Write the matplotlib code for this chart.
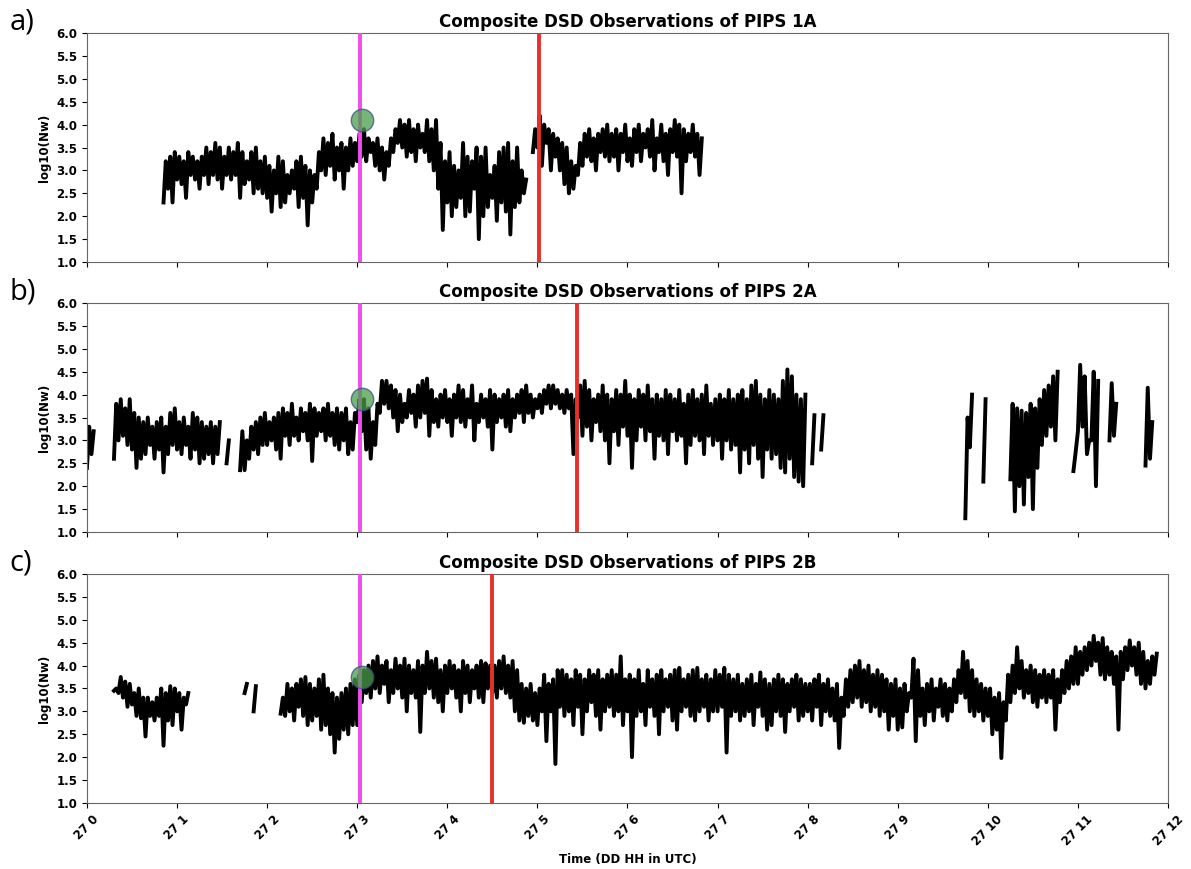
import numpy as np
import matplotlib
matplotlib.use("Agg")
import matplotlib.pyplot as plt

nan = np.nan

# log10(Nw): low and high reading inside each 3-minute slot (0.05 h)
# NaN = no data in that slot
slot_h = 0.05

pips1a_start = 0.85
pips1a_hi = [3.2, 3.3, 3.4, 3.3, 3.2, 3.4, 3.3, 3.2, 3.3, 3.5,
             3.4, 3.6, 3.5, 3.3, 3.5, 3.4, 3.6, 3.4, 3.2, 3.4,
             3.5, 3.2, 3.3, 3.1, 3.0, 3.3, 3.2, 2.9, 3.0, 3.2,
             3.3, 3.1, 3.0, 2.9, 3.4, 3.7, 3.6, 3.8, 3.5, 3.6,
             3.5, 3.7, 3.6, 3.8, 3.9, 3.7, 3.6, 3.7, 3.5, 3.4,
             3.7, 3.9, 4.1, 4.0, 4.1, 3.9, 4.0, 3.8, 4.1, 3.9,
             4.1, 3.6, 3.2, 3.4, 3.1, 3.0, 3.6, 3.3, 3.2, 3.5,
             3.3, 3.5, 2.9, 3.1, 3.4, 3.5, 3.6, 3.2, 3.5, 3.0,
             2.8, nan, 3.9, 4.2, 4.0, 3.9, 3.8, 3.7, 3.6, 3.5,
             3.2, 3.1, 3.6, 3.8, 3.9, 3.7, 3.8, 3.9, 4.0, 3.8,
             3.9, 3.8, 4.0, 3.7, 3.9, 4.0, 3.8, 3.9, 4.1, 3.7,
             4.0, 3.8, 3.9, 4.1, 4.0, 3.9, 3.8, 4.0, 3.8, 3.7]
pips1a_lo = [2.3, 2.6, 2.3, 2.8, 2.7, 2.4, 2.9, 2.8, 2.6, 2.9,
             2.7, 2.9, 2.8, 2.6, 2.9, 2.8, 2.9, 2.4, 2.7, 2.8,
             2.5, 2.6, 2.5, 2.4, 2.1, 2.5, 2.2, 2.3, 2.5, 2.6,
             2.2, 2.4, 1.8, 2.3, 2.6, 3.0, 2.9, 3.1, 2.8, 3.0,
             2.6, 3.0, 3.1, 3.2, 3.3, 3.2, 3.4, 3.1, 3.0, 2.8,
             3.1, 3.4, 3.6, 3.5, 3.3, 3.4, 3.2, 3.5, 3.4, 3.2,
             3.0, 2.6, 1.7, 2.3, 2.0, 2.2, 2.4, 2.0, 2.1, 2.6,
             1.5, 2.0, 2.2, 2.4, 1.9, 2.3, 2.1, 1.6, 2.2, 2.3,
             2.5, nan, 3.4, 3.5, 3.1, 3.6, 3.0, 3.3, 3.0, 2.7,
             2.5, 2.6, 2.9, 3.1, 3.3, 3.2, 3.0, 3.4, 3.3, 3.2,
             3.3, 3.0, 3.4, 3.2, 3.1, 3.4, 3.2, 3.5, 3.3, 3.0,
             3.4, 3.2, 2.9, 3.4, 3.3, 2.5, 3.2, 3.4, 3.3, 2.9]

pips2a_start = 0.0
pips2a_hi = ([3.3, 3.2] + [nan] * 4
             + [3.8, 3.9, 3.7, 3.9, 3.6, 3.5, 3.4, 3.5, 3.3, 3.4, 3.5, 3.3,
                3.6, 3.7, 3.4, 3.5, 3.3, 3.6, 3.5, 3.4, 3.3, 3.4, 3.3, 3.4]
             + [nan, 3.0, nan, nan]
             + [3.2, 3.0, 3.3, 3.4, 3.5, 3.6, 3.4, 3.5, 3.6, 3.7, 3.6, 3.8, 3.5,
                3.7, 3.6, 3.8, 3.7, 3.6, 3.7, 3.8, 3.6, 3.7, 3.6, 3.7, 3.4, 3.6]
             + [3.9, 3.9, 3.7, 3.4, 3.8]
             + [4.3, 4.3, 4.2, 4.1, 4.0, 3.8, 4.1, 4.0, 4.2, 4.3, 4.35,
                4.1, 3.9, 4.0, 4.1, 3.9, 4.0, 4.2, 4.1, 3.9, 4.2, 3.8,
                4.0, 3.9, 4.1, 4.0, 3.9, 4.0, 4.1, 3.9, 4.0, 4.1, 4.2,
                4.0, 3.9, 4.0, 4.1, 4.2, 4.2, 4.1, 4.0, 4.1, 4.0, 3.9]
             + [4.2, 4.3, 4.1, 3.9, 4.0, 4.2, 4.0, 3.9, 4.1, 4.0, 4.3, 4.0,
                3.9, 4.1, 4.0, 4.2, 3.9, 4.0, 3.9, 4.1, 4.0, 3.9, 4.1, 3.8,
                4.0, 4.1, 3.9, 4.0, 4.2, 3.8, 3.9, 4.0, 3.9, 4.1, 3.9, 4.0,
                4.1, 3.9, 4.2, 4.3, 4.0, 3.9, 4.1, 4.0, 3.9, 4.3]
             + [4.55, 4.4, 4.0, 3.9, 4.0]
             + [nan, 3.55, nan, 3.55, nan]
             + [nan] * 30
             + [3.5, 4.0, nan, nan, 3.9, nan, nan, nan, nan, nan,
                3.8, 3.7, 3.65, 3.6, 3.8, 3.7, 3.9, 4.1, 4.2, 4.4, 4.5,
                nan, nan, nan, 2.75, 4.65, 4.4, 3.0, 4.5, 4.3, nan, nan,
                4.25, 3.8, nan, nan, nan, nan, nan, nan, 4.15, 3.4])
pips2a_lo = ([2.4, 2.7] + [nan] * 4
             + [2.6, 3.0, 3.1, 2.9, 2.8, 2.4, 2.6, 2.7, 2.9, 2.6, 2.8, 2.3,
                2.7, 2.9, 2.8, 2.7, 2.9, 2.6, 2.8, 2.5, 2.6, 2.7, 2.5, 2.7]
             + [nan, 2.5, nan, nan]
             + [2.35, 2.35, 2.6, 2.8, 2.7, 2.9, 2.9, 3.0, 2.8, 2.6, 3.1, 2.9,
                3.1, 3.0, 3.2, 3.0, 2.55, 3.1, 3.2, 3.0, 3.1, 2.9, 2.8, 3.0,
                2.7, 2.8]
             + [3.4, 3.2, 2.8, 2.6, 2.9]
             + [3.6, 3.8, 3.7, 3.5, 3.2, 3.4, 3.5, 3.6, 3.3, 3.5, 3.6,
                3.1, 3.4, 3.3, 3.5, 3.4, 3.1, 3.5, 3.4, 3.3, 3.5, 3.0,
                3.4, 3.5, 3.3, 2.8, 3.4, 3.5, 3.3, 3.2, 3.5, 3.6, 3.4,
                3.6, 3.5, 3.7, 3.6, 3.8, 3.7, 3.8, 3.7, 3.6, 3.7, 2.7]
             + [3.5, 3.1, 3.3, 3.0, 3.4, 3.2, 3.0, 2.5, 3.2, 2.9, 3.3, 3.1,
                2.4, 3.0, 3.3, 3.0, 3.2, 2.6, 3.1, 3.0, 2.7, 3.2, 3.0, 3.1,
                2.5, 2.9, 3.1, 3.0, 2.7, 3.1, 2.9, 3.0, 2.6, 3.0, 2.8, 2.9,
                2.3, 2.8, 2.5, 2.9, 2.6, 2.2, 2.8, 2.6, 2.7, 2.4]
             + [2.3, 2.6, 2.2, 2.1, 2.0]
             + [nan, 2.5, nan, 2.8, nan]
             + [nan] * 30
             + [1.3, 2.85, nan, nan, 2.1, nan, nan, nan, nan, nan,
                2.15, 1.45, 2.0, 1.6, 2.2, 1.5, 2.4, 2.9, 3.1, 3.3, 3.0,
                nan, nan, nan, 2.33, 3.2, 3.3, 2.7, 3.0, 2.0, nan, nan,
                3.0, 3.1, nan, nan, nan, nan, nan, nan, 2.45, 2.6])

pips2b_start = 0.30
pips2b_hi = ([3.5, 3.75, 3.65, 3.6, 3.4, 3.5, 3.3,
              3.3, 3.2, 3.3, 3.5, 3.4, 3.55, 3.5, 3.4, 3.3, 3.4]
             + [nan] * 12
             + [3.6, nan, 3.55, nan, nan] + [nan] * 3
             + [3.3, 3.6, 3.5, 3.6, 3.7, 3.75, 3.6, 3.5, 3.7, 3.8, 3.5,
                3.4, 3.3, 3.4, 3.5, 3.6, 3.7]
             + [3.8, 3.9, 4.0]
             + [4.1, 4.2, 4.0, 4.1, 3.9, 4.15, 4.0, 4.15, 4.0, 3.9, 4.1,
                4.0, 4.3, 4.1, 4.15, 3.9, 4.0, 4.1, 4.0, 3.9, 4.1, 4.0,
                3.9, 4.0, 4.1, 4.05, 4.0]
             + [4.0, 4.1, 4.2, 4.0, 4.1, 3.9, 3.6, 3.5, 3.6, 3.4, 3.5]
             + [3.8, 3.6, 3.7, 3.9, 3.9, 3.8, 3.7, 3.9, 3.8, 3.7, 3.9,
                3.8, 3.9, 3.7, 3.8, 3.9, 3.8, 4.2, 3.7]
             + [3.8, 3.7, 3.9, 3.6, 3.9, 3.7, 3.8, 3.9, 3.7, 3.8,
                3.9, 3.95, 3.7, 3.8, 3.9, 3.95, 3.7, 3.8, 3.7, 3.9]
             + [3.8, 3.95, 3.8, 3.7, 3.8, 3.6, 3.7, 3.8, 3.6, 3.85,
                3.7, 3.6, 3.7, 3.8, 3.7, 3.6, 3.7, 3.8, 3.7, 3.6]
             + [3.6, 3.7, 3.8, 3.6, 3.7, 3.5, 3.6, 3.3, 3.7, 3.9,
                4.0, 4.1, 3.9, 4.0, 3.8, 3.9, 3.8, 3.7, 3.6, 3.7]
             + [3.5, 3.6, 3.4, 4.15, 3.9, 3.5, 3.6, 3.7, 3.5, 3.7,
                3.6, 3.5, 3.7, 3.9, 4.3, 4.1, 3.9, 3.7, 3.6, 3.5]
             + [3.5, 3.3, 3.4, 3.2, 3.8, 4.0, 4.4, 4.1, 3.9, 4.0,
                3.9, 3.8, 3.9, 3.8, 3.9, 3.7, 3.9, 4.1, 4.2, 4.4]
             + [4.3, 4.4, 4.5, 4.65, 4.5, 4.6, 4.4, 4.3, 4.2, 4.3,
                4.4, 4.55, 4.4, 4.5, 4.3, 4.1, 4.2, 4.26])
pips2b_lo = ([3.45, 3.4, 3.3, 3.1, 3.15, 2.9, 2.85,
              2.45, 2.9, 2.8, 2.9, 2.25, 2.8, 2.7, 3.0, 2.6, 3.15]
             + [nan] * 12
             + [3.4, nan, 3.0, nan, nan] + [nan] * 3
             + [2.95, 2.9, 3.0, 2.8, 3.1, 2.9, 2.7, 2.8, 2.9, 2.6, 2.7,
                2.5, 2.1, 2.4, 2.6, 2.5, 2.7]
             + [2.7, 3.2, 3.4]
             + [3.3, 3.5, 3.4, 3.6, 3.2, 3.4, 3.5, 3.3, 3.0, 3.4, 3.3,
                2.55, 3.4, 3.5, 3.3, 3.2, 3.0, 3.4, 3.5, 3.3, 3.0, 3.4,
                3.2, 3.5, 3.3, 3.2, 3.5]
             + [3.4, 3.3, 3.5, 3.4, 3.3, 3.0, 2.8, 2.75, 2.9, 2.8, 2.7]
             + [3.0, 2.35, 3.0, 1.85, 3.1, 2.9, 3.0, 2.7, 3.1, 2.5, 3.0,
                3.2, 2.9, 2.6, 3.0, 3.1, 2.9, 3.0, 2.7]
             + [3.0, 2.0, 2.9, 3.0, 2.7, 3.1, 2.9, 2.5, 3.0, 3.1,
                2.8, 2.6, 3.0, 3.1, 2.9, 2.8, 3.0, 3.1, 2.8, 3.0]
             + [3.0, 3.1, 2.1, 2.9, 3.0, 2.8, 2.9, 3.0, 2.7, 3.1,
                2.9, 2.6, 2.7, 3.0, 2.9, 2.55, 3.0, 3.1, 2.8, 2.9]
             + [3.0, 2.8, 3.1, 2.7, 3.0, 2.9, 2.8, 2.2, 2.9, 3.1,
                3.2, 3.3, 3.1, 3.2, 3.0, 3.1, 2.9, 3.0, 2.6, 2.9]
             + [2.6, 2.65, 3.0, 3.3, 2.35, 2.9, 2.7, 3.0, 2.8, 3.1,
                2.9, 2.8, 3.0, 3.2, 3.4, 3.3, 3.0, 2.9, 3.0, 2.8]
             + [2.9, 2.5, 2.6, 1.98, 2.8, 3.2, 3.4, 3.5, 3.3, 3.4,
                3.2, 3.1, 3.3, 3.2, 3.3, 2.6, 3.2, 3.4, 3.5, 3.6]
             + [3.6, 3.8, 3.9, 4.0, 4.1, 3.8, 3.7, 3.8, 3.6, 2.6,
                3.7, 3.9, 4.0, 3.8, 3.6, 3.5, 3.6, 3.8])

titles = ["Composite DSD Observations of PIPS 1A",
          "Composite DSD Observations of PIPS 2A",
          "Composite DSD Observations of PIPS 2B"]
panel_tags = ["a)", "b)", "c)"]
starts = [pips1a_start, pips2a_start, pips2b_start]
highs = [pips1a_hi, pips2a_hi, pips2b_hi]
lows = [pips1a_lo, pips2a_lo, pips2b_lo]

# event markers (hour after 27 00 UTC)
magenta_hr = 3.03
red_hr = [5.02, 5.44, 4.50]
circle_val = [4.1, 3.9, 3.75]

hour_ticks = list(range(13))
hour_labels = ["27 %d" % h for h in hour_ticks]

fig = plt.figure(figsize=(11.91, 8.69), dpi=100)
bottoms = [0.6985, 0.3878, 0.076]

for i in range(3):
    ax = fig.add_axes([0.073, bottoms[i], 0.9077, 0.2635])
    lo = np.array(lows[i], dtype=float)
    hi = np.array(highs[i], dtype=float)
    t0 = starts[i] + slot_h * np.arange(len(lo))
    # within each slot the trace goes from the low to the high reading
    hrs = np.column_stack([t0, t0 + slot_h / 2]).ravel()
    vals = np.column_stack([lo, hi]).ravel()
    ax.plot(hrs, vals, color="black", lw=2.8, zorder=2)
    ax.axvline(magenta_hr, color="#f04cf0", lw=2.8, zorder=3)
    ax.axvline(red_hr[i], color="#e8302a", lw=2.8, zorder=3)
    ax.scatter([magenta_hr + 0.02], [circle_val[i]], s=260, color="#4a9e4a",
               alpha=0.75, edgecolors="#33508a", linewidths=1.0, zorder=4)

    ax.set_xlim(0, 12)
    ax.set_ylim(1.0, 6.0)
    ax.set_yticks(np.arange(1.0, 6.01, 0.5))
    ax.set_yticklabels(["%.1f" % v for v in np.arange(1.0, 6.01, 0.5)],
                       fontsize=8.5, fontweight="bold")
    ax.set_xticks(hour_ticks)
    if i == 2:
        ax.set_xticklabels(hour_labels, rotation=45, fontsize=8.5,
                           fontweight="bold")
        ax.set_xlabel("Time (DD HH in UTC)", fontsize=8.5, fontweight="bold")
    else:
        ax.set_xticklabels([])
    ax.set_ylabel("log10(Nw)", fontsize=8.5, fontweight="bold")
    ax.set_title(titles[i], fontsize=12, fontweight="bold", pad=4)
    for sp in ax.spines.values():
        sp.set_color("#666666")
    fig.text(0.008, bottoms[i] + 0.2635 - 0.004, panel_tags[i],
             fontsize=21, family="Open Sans", va="bottom", ha="left")

fig.savefig("out.png", dpi=100)
